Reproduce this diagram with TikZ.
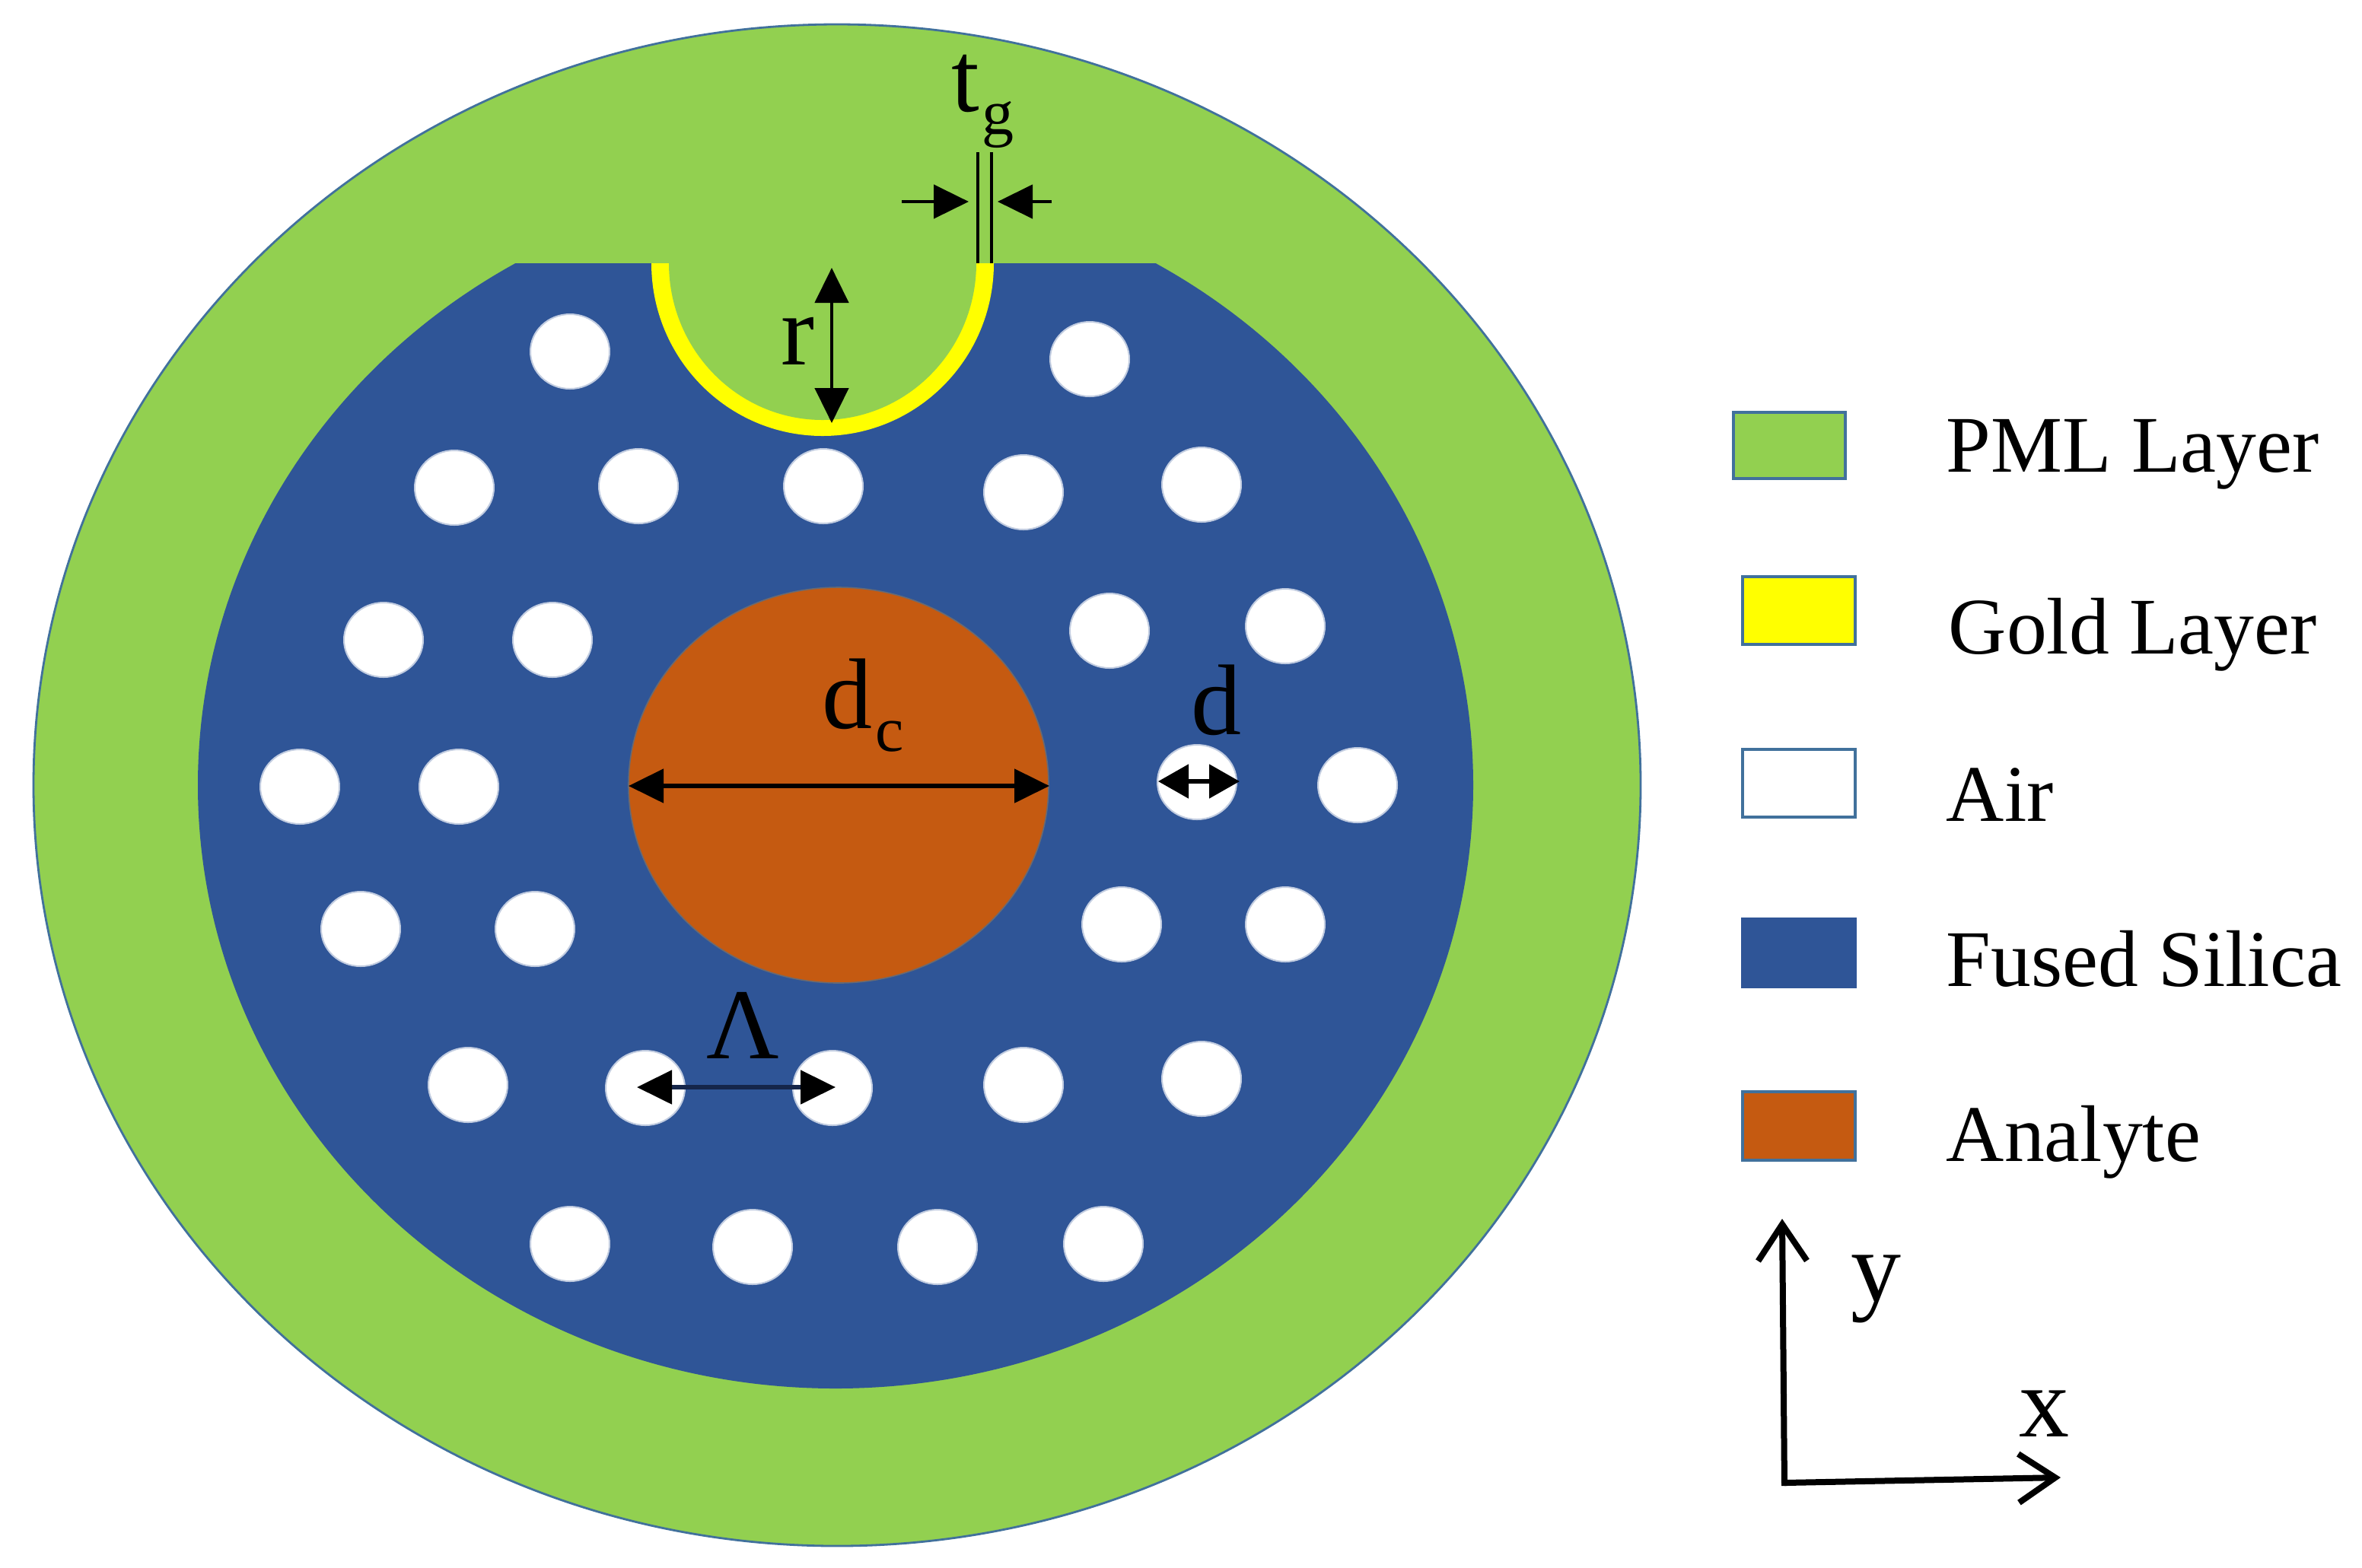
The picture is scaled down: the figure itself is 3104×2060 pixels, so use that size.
\documentclass[tikz,border=0pt]{standalone}
\usepackage{fontspec}
\setmainfont{Liberation Serif}
\usetikzlibrary{arrows.meta}
\definecolor{pml}{HTML}{92D050}
\definecolor{silica}{HTML}{2F5597}
\definecolor{analyte}{HTML}{C55A11}
\definecolor{gold}{HTML}{FFFF00}
\definecolor{edge}{HTML}{41719C}
\definecolor{lamline}{HTML}{15264A}
\tikzset{
  x=0.25pt,y=-0.25pt,
  swatch/.style={draw=edge,line width=1.1pt},
  legendtext/.style={anchor=base west,inner sep=0pt,font=\fontsize{26.4pt}{30pt}\selectfont},
  symbol/.style={anchor=base west,inner sep=0pt,font=\fontsize{33pt}{36pt}\selectfont},
  dim/.style={line width=1.3pt,{Triangle[length=11.5pt,width=11pt]}-{Triangle[length=11.5pt,width=11pt]}},
  oneway/.style={line width=1.2pt,-{Triangle[length=11.5pt,width=11pt]}},
  axis/.style={line width=2pt,-{Straight Barb[length=12pt,width=16pt,line width=2pt]}},
  hole/.style={fill=white,draw=white!70!silica,line width=0.5pt}
}
\newcommand{\subs}[1]{\kern0.8pt\raisebox{-7.5pt}{\fontsize{21pt}{24pt}\selectfont #1}}
\begin{document}
\begin{tikzpicture}
\useasboundingbox (0,0) rectangle (3104,2060);
\fill[white] (0,0) rectangle (3104,2060);
% PML
\fill[pml,draw=edge,line width=0.7pt] (1100,1032) ellipse [x radius=264pt,y radius=250pt];
% silica with flat top
\begin{scope}
\clip (0,346) rectangle (3104,2060);
\fill[silica] (1098,1032) ellipse [x radius=209.5pt,y radius=198.25pt];
\end{scope}
% gold groove
\fill[gold] (856,346) arc [start angle=180,end angle=360,x radius=56.25pt,y radius=56.75pt] -- cycle;
\fill[pml] (879,346) arc [start angle=180,end angle=360,x radius=50.5pt,y radius=51.5pt] -- cycle;
% air holes
\foreach \hx/\hy in {749/462,1432/472,
  597/641,839/639,1082/639,1345/647,1579/637,
  504/841,726/841,1458/829,1689/823,
  394/1034,603/1034,1573/1028,1784/1032,
  474/1221,703/1221,1474/1215,1689/1215,
  615/1426,848/1430,1094/1430,1345/1426,1579/1418,
  749/1635,989/1639,1232/1639,1450/1635}
  \filldraw[hole] (\hx,\hy) ellipse [x radius=13pt,y radius=12.25pt];
% analyte core
\fill[analyte,draw=edge!70!analyte,line width=0.4pt] (1102,1032) ellipse [x radius=69pt,y radius=65pt];
% dimension ends
\coordinate (dcL) at (826,1033);
\coordinate (dcR) at (1379,1033);
\coordinate (dL) at (1522,1027);
\coordinate (dR) at (1629,1027);
\coordinate (LamL) at (837,1429);
\coordinate (LamR) at (1098,1429);
\coordinate (rT) at (1093,352);
\coordinate (rB) at (1093,556);
\coordinate (tgLa) at (1185,265);
\coordinate (tgLb) at (1273,265);
\coordinate (tgRa) at (1382,265);
\coordinate (tgRb) at (1311,265);
\coordinate (w1a) at (1285,200);
\coordinate (w1b) at (1285,346);
\coordinate (w2a) at (1303,200);
\coordinate (w2b) at (1303,346);
\draw[dim] (dcL) -- (dcR);
\draw[dim,{Triangle[length=10pt,width=11pt]}-{Triangle[length=10pt,width=11pt]}] (dL) -- (dR);
\draw[dim,lamline,{Triangle[length=11.5pt,width=11pt,color=black]}-{Triangle[length=11.5pt,width=11pt,color=black]}] (LamL) -- (LamR);
\draw[dim,line width=1.2pt] (rT) -- (rB);
\draw[oneway] (tgLa) -- (tgLb);
\draw[oneway] (tgRa) -- (tgRb);
\draw[line width=1.2pt] (w1a) -- (w1b);
\draw[line width=1.2pt] (w2a) -- (w2b);
% symbols
\node[symbol] (tg) at (1250,146) {t\subs{g}};
\node[symbol] (r) at (1026,479) {r};
\node[symbol] (dc) at (1080,957) {d\subs{c}};
\node[symbol] (d) at (1565,965) {d};
\node[symbol] (lam) at (928,1391) {Λ};
% legend
\filldraw[swatch,fill=pml] (2278,542) rectangle (2425,629);
\filldraw[swatch,fill=gold] (2290,758) rectangle (2438,847);
\filldraw[swatch,fill=white] (2290,985) rectangle (2438,1074);
\filldraw[swatch,fill=silica,draw=silica] (2290,1208) rectangle (2438,1297);
\filldraw[swatch,fill=analyte] (2290,1435) rectangle (2438,1525);
\node[legendtext] (l1) at (2557,620) {PML Layer};
\node[legendtext] (l2) at (2560,859) {Gold Layer};
\node[legendtext] (l3) at (2557,1079) {Air};
\node[legendtext] (l4) at (2557,1296) {Fused Silica};
\node[legendtext] (l5) at (2557,1526) {Analyte};
% axes
\coordinate (O) at (2345,1949);
\coordinate (Y) at (2342,1602);
\coordinate (X) at (2708,1942);
\draw[axis] (2345,1953) -- (Y);
\draw[axis] (O) -- (X);
\node[symbol] (ylab) at (2432,1710) {y};
\node[symbol] (xlab) at (2653,1888) {x};
\end{tikzpicture}
\end{document}
